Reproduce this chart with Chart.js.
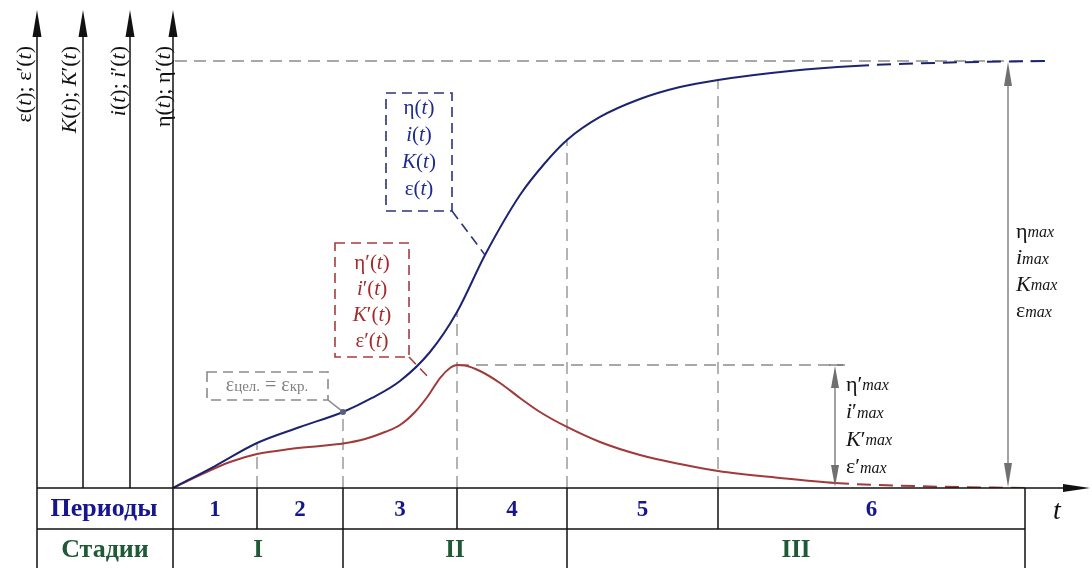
<!DOCTYPE html>
<html lang="ru">
<head>
<meta charset="utf-8">
<script src="https://cdn.jsdelivr.net/npm/chart.js@4.4.1/dist/chart.umd.min.js"></script>
<title>Периоды и стадии</title>
<style>
  html, body { margin: 0; padding: 0; background: #fff; }
  #wrap { position: relative; width: 1092px; height: 568px; }
</style>
</head>
<body>
<div id="wrap"><canvas id="chart" width="1092" height="568"></canvas></div>
<script>
// время в условных единицах, значения в % от максимума
var tBlue = [0, 42, 84, 127, 170, 199, 227, 257, 284, 312, 347, 372, 394, 427, 467, 507, 545, 617, 682, 777, 872];
var yBlue = [0, 5.15, 10.54, 14.29, 17.8, 21.08, 25.06, 31.85, 41.22, 54.57, 68.62, 76.11, 81.5, 86.89, 91.1, 93.91, 95.55, 97.66, 98.83, 99.65, 100];
var tRed = [0, 27, 57, 84, 117, 147, 170, 192, 212, 227, 242, 255, 267, 277, 284, 292, 307, 327, 347, 367, 394, 427, 467, 507, 545, 607, 662, 757, 852];
var yRed = [0, 3.04, 6.09, 7.96, 9.13, 9.84, 10.42, 11.48, 13.11, 14.75, 17.8, 21.55, 25.76, 28.1, 28.8, 28.69, 27.4, 24.6, 21.08, 17.8, 14.29, 10.77, 7.73, 5.62, 3.98, 2.34, 1.17, 0.35, 0];

var periodBounds = [0, 84, 170, 284, 394, 545, 852];
var periodLabels = ['1', '2', '3', '4', '5', '6'];
var stageBounds = [0, 170, 394, 852];
var stageLabels = ['I', 'II', 'III'];

var blueDashFrom = 682;   // дальше кривая условная (пунктир)
var redDashFrom = 662;
var critT = 170;          // точка εцел. = εкр.
var maxArrowT = 835;
var peakArrowT = 662;

var SERIF = 'px "Liberation Serif", "DejaVu Serif", serif';
function up(s) { return s + SERIF; }
function it(s) { return 'italic ' + s + SERIF; }
function bold(s) { return 'bold ' + s + SERIF; }

function toPts(ts, ys) {
  return ts.map(function (t, i) { return { x: t, y: ys[i] }; });
}

// подпись из кусков разного начертания
function rich(ctx, parts, x, y, align) {
  var w = 0;
  parts.forEach(function (p) { ctx.font = p[1]; w += ctx.measureText(p[0]).width; });
  var cx = align === 'center' ? x - w / 2 : align === 'right' ? x - w : x;
  ctx.textAlign = 'left';
  parts.forEach(function (p) {
    ctx.font = p[1];
    ctx.fillText(p[0], cx, y + (p[2] || 0));
    cx += ctx.measureText(p[0]).width;
  });
}

// η(t), K'(t) и т.п.
function fn(sym, symItalic, prime, size) {
  var parts = [[sym, symItalic ? it(size) : up(size)]];
  if (prime) parts.push(['\u2032', up(size)]);
  parts.push(['(', up(size)], ['t', it(size)], [')', up(size)]);
  return parts;
}

function maxLabel(sym, symItalic, prime, size) {
  var parts = [[sym, symItalic ? it(size) : up(size)]];
  if (prime) parts.push(['\u2032', up(size)]);
  parts.push(['max', it(size - 6), 1]);
  return parts;
}

function arrowHead(ctx, x, y, dir, len, half) {
  ctx.beginPath();
  if (dir === 'up') { ctx.moveTo(x, y); ctx.lineTo(x - half, y + len); ctx.lineTo(x + half, y + len); }
  if (dir === 'down') { ctx.moveTo(x, y); ctx.lineTo(x - half, y - len); ctx.lineTo(x + half, y - len); }
  if (dir === 'right') { ctx.moveTo(x, y); ctx.lineTo(x - len, y - half); ctx.lineTo(x - len, y + half); }
  ctx.closePath();
  ctx.fill();
}

function line(ctx, x1, y1, x2, y2) {
  ctx.beginPath(); ctx.moveTo(x1, y1); ctx.lineTo(x2, y2); ctx.stroke();
}

function blueAt(t) { return yBlue[tBlue.indexOf(t)]; }

var scheme = {
  id: 'scheme',
  beforeDatasetsDraw: function (chart) {
    var ctx = chart.ctx, xs = chart.scales.x, ys = chart.scales.y;
    var X = function (v) { return xs.getPixelForValue(v); };
    var Y = function (v) { return ys.getPixelForValue(v); };
    var peak = Math.max.apply(null, yRed);
    var peakT = tRed[yRed.indexOf(peak)];

    ctx.save();
    ctx.strokeStyle = '#8c8c8c';
    ctx.lineWidth = 1.3;
    ctx.setLineDash([12, 7]);
    line(ctx, X(2), Y(100), X(872), Y(100));
    line(ctx, X(peakT), Y(peak), X(672), Y(peak));
    periodBounds.slice(1, -1).forEach(function (t) {
      line(ctx, X(t), Y(0), X(t), Y(blueAt(t)));
    });
    ctx.restore();
  },
  afterDatasetsDraw: function (chart) {
    var ctx = chart.ctx, xs = chart.scales.x, ys = chart.scales.y, area = chart.chartArea;
    var X = function (v) { return xs.getPixelForValue(v); };
    var Y = function (v) { return ys.getPixelForValue(v); };
    var base = Y(0), left = area.left;
    var tableLeft = left - 136, rowMid = base + 41, rowBot = chart.height;
    var peak = Math.max.apply(null, yRed);

    ctx.save();
    ctx.textBaseline = 'middle';

    // оси слева
    ctx.strokeStyle = '#111';
    ctx.fillStyle = '#111';
    ctx.lineWidth = 1.5;
    var axisX = [left - 136, left - 90, left - 43, left];
    axisX.forEach(function (ax) {
      line(ctx, ax, base, ax, 20);
      arrowHead(ctx, ax, 10, 'up', 27, 4.5);
    });
    var fs = 22;
    var axisLabels = [
      fn('\u03b5', false, false, fs).concat([['; ', up(fs)]], fn('\u03b5', false, true, fs)),
      fn('K', true, false, fs).concat([['; ', up(fs)]], fn('K', true, true, fs)),
      fn('i', true, false, fs).concat([['; ', up(fs)]], fn('i', true, true, fs)),
      fn('\u03b7', false, false, fs).concat([['; ', up(fs)]], fn('\u03b7', false, true, fs))
    ];
    var labelDx = [-12, -13, -11, -9];
    axisLabels.forEach(function (parts, i) {
      ctx.save();
      ctx.translate(axisX[i] + labelDx[i], 46);
      ctx.rotate(-Math.PI / 2);
      rich(ctx, parts, 0, 0, 'right');
      ctx.restore();
    });

    // ось t
    line(ctx, tableLeft, base, 1066, base);
    arrowHead(ctx, 1090, base, 'right', 27, 4);
    ctx.font = it(28);
    ctx.textAlign = 'center';
    ctx.fillText('t', 1057, base + 24);

    // таблица периодов и стадий
    ctx.lineWidth = 1.5;
    line(ctx, tableLeft, rowMid, X(852), rowMid);
    line(ctx, tableLeft, base, tableLeft, rowBot);
    periodBounds.forEach(function (t) { line(ctx, X(t), base, X(t), rowMid); });
    stageBounds.forEach(function (t) { line(ctx, X(t), rowMid, X(t), rowBot); });

    ctx.textAlign = 'center';
    ctx.fillStyle = '#16168f';
    ctx.font = bold(26);
    ctx.fillText('Периоды', (tableLeft + left) / 2 - 1, base + 21);
    ctx.font = bold(23);
    periodLabels.forEach(function (s, i) {
      ctx.fillText(s, (X(periodBounds[i]) + X(periodBounds[i + 1])) / 2, base + 22);
    });
    ctx.fillStyle = '#1d5a35';
    ctx.font = bold(26);
    ctx.fillText('Стадии', (tableLeft + left) / 2, rowMid + 21);
    ctx.font = bold(25);
    stageLabels.forEach(function (s, i) {
      ctx.fillText(s, (X(stageBounds[i]) + X(stageBounds[i + 1])) / 2, rowMid + 22);
    });

    // стрелки максимумов
    ctx.strokeStyle = '#707070';
    ctx.fillStyle = '#707070';
    ctx.lineWidth = 1.3;
    var ax1 = X(maxArrowT);
    line(ctx, ax1, Y(100) + 20, ax1, base - 20);
    arrowHead(ctx, ax1, Y(100) + 1, 'up', 24, 4);
    arrowHead(ctx, ax1, base - 1, 'down', 24, 4);
    var ax2 = X(peakArrowT);
    line(ctx, ax2, Y(peak) + 18, ax2, base - 18);
    line(ctx, ax2 - 6, Y(peak), ax2 + 8, Y(peak));
    arrowHead(ctx, ax2, Y(peak) + 1, 'up', 22, 4);
    arrowHead(ctx, ax2, base - 1, 'down', 22, 4);

    ctx.fillStyle = '#151515';
    [['\u03b7', false], ['i', true], ['K', true], ['\u03b5', false]].forEach(function (s, i) {
      rich(ctx, maxLabel(s[0], s[1], false, 22), ax1 + 8, 232 + i * 26.5, 'left');
      rich(ctx, maxLabel(s[0], s[1], true, 22), ax2 + 11, 385 + i * 27.5, 'left');
    });

    // точка εцел. = εкр.
    var cx = X(critT), cy = Y(blueAt(critT));
    ctx.setLineDash([10, 6]);
    ctx.strokeStyle = '#8a8a8a';
    ctx.lineWidth = 1.6;
    ctx.strokeRect(207, 372, 121, 28);
    ctx.setLineDash([]);
    line(ctx, 328, 400, cx, cy);
    ctx.fillStyle = '#5a5f7c';
    ctx.beginPath(); ctx.arc(cx, cy, 3, 0, Math.PI * 2); ctx.fill();
    ctx.fillStyle = '#808080';
    rich(ctx, [['\u03b5', up(20)], ['цел.', up(15), 1], [' = ', up(20)], ['\u03b5', up(20)], ['кр.', up(15), 1]], 267, 386, 'center');

    // рамка для основных кривых
    ctx.setLineDash([10, 6]);
    ctx.strokeStyle = '#2b3479';
    ctx.lineWidth = 1.6;
    ctx.strokeRect(386, 93, 66, 118);
    line(ctx, 452, 211, X(312), Y(blueAt(312)));
    ctx.setLineDash([]);
    ctx.fillStyle = '#1d2a90';
    [['\u03b7', false], ['i', true], ['K', true], ['\u03b5', false]].forEach(function (s, i) {
      rich(ctx, fn(s[0], s[1], false, 21), 419, 108 + i * 27, 'center');
    });

    // рамка для производных
    ctx.setLineDash([10, 6]);
    ctx.strokeStyle = '#a63c3c';
    ctx.strokeRect(335, 243, 74, 114);
    line(ctx, 409, 357, 431, 380);
    ctx.setLineDash([]);
    ctx.fillStyle = '#a32b2b';
    [['\u03b7', false], ['i', true], ['K', true], ['\u03b5', false]].forEach(function (s, i) {
      rich(ctx, fn(s[0], s[1], true, 21), 372, 263 + i * 26, 'center');
    });

    ctx.restore();
  }
};

new Chart(document.getElementById('chart'), {
  type: 'line',
  data: {
    datasets: [
      {
        label: 'η(t)',
        data: toPts(tBlue, yBlue),
        borderColor: '#1c2470',
        borderWidth: 2,
        pointRadius: 0,
        cubicInterpolationMode: 'monotone',
        segment: {
          borderDash: function (c) { return c.p0.parsed.x >= blueDashFrom ? [14, 8] : undefined; }
        }
      },
      {
        label: 'η′(t)',
        data: toPts(tRed, yRed),
        borderColor: '#a23a3a',
        borderWidth: 2,
        pointRadius: 0,
        cubicInterpolationMode: 'monotone',
        segment: {
          borderDash: function (c) { return c.p0.parsed.x >= redDashFrom ? [14, 8] : undefined; }
        }
      }
    ]
  },
  options: {
    responsive: false,
    devicePixelRatio: 1,
    animation: false,
    layout: { padding: { left: 173, right: 7, top: 10, bottom: 80 } },
    scales: {
      x: { type: 'linear', min: 0, max: 912, display: false },
      y: { min: 0, max: 111.94, display: false }
    },
    plugins: {
      legend: { display: false },
      tooltip: { enabled: false }
    }
  },
  plugins: [scheme]
});
</script>
</body>
</html>
